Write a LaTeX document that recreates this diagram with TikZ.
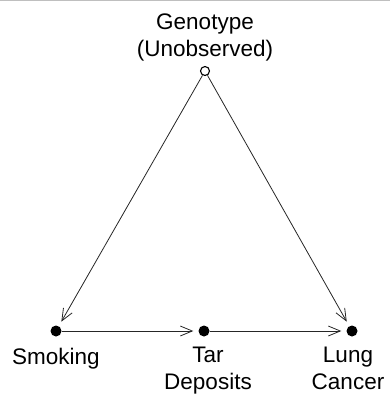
\documentclass[tikz,border=0pt]{standalone}
\usepackage{fontspec}
\setmainfont{Liberation Sans}
\usetikzlibrary{arrows.meta}
\tikzset{
	dot/.style={circle,fill=black,inner sep=0pt,minimum size=11pt},
	hollow/.style={circle,draw,line width=1.1pt,fill=white,inner sep=0pt,minimum size=9pt},
	lbl/.style={align=center,anchor=base,inner sep=0pt,font=\fontsize{22.5}{27}\selectfont},
	arr/.style={-{Straight Barb[length=12pt,width=10pt]},line width=0.8pt,draw=black!85,shorten >=5pt}
}
\begin{document}
\begin{tikzpicture}[x=1pt,y=-1pt]
			\useasboundingbox (0,0) rectangle (390,395);
			\draw[black!25,line width=1.5pt] (0,0.75) -- (390,0.75);
			
			% points
			\node[hollow] (gen) at (205,71) {};
			\node[dot] (smk) at (56,331) {};
			\node[dot] (tar) at (204,331) {};
			\node[dot] (lung) at (352,331) {};
			
			% labels (base = last line)
			\node[lbl] (genlbl) at (205,57) {Genotype\\(Unobserved)};
			\node[lbl] (smklbl) at (56,364) {Smoking};
			\node[lbl] (tarlbl) at (208,389) {Tar\\Deposits};
			\node[lbl] (lunglbl) at (348,389) {Lung\\Cancer};
			
			\draw[arr] (gen) -- (smk);
			\draw[arr] (gen) -- (lung);
			\draw[arr] (smk) -- (tar);
			\draw[arr] (tar) -- (lung);
		\end{tikzpicture}
\end{document}
